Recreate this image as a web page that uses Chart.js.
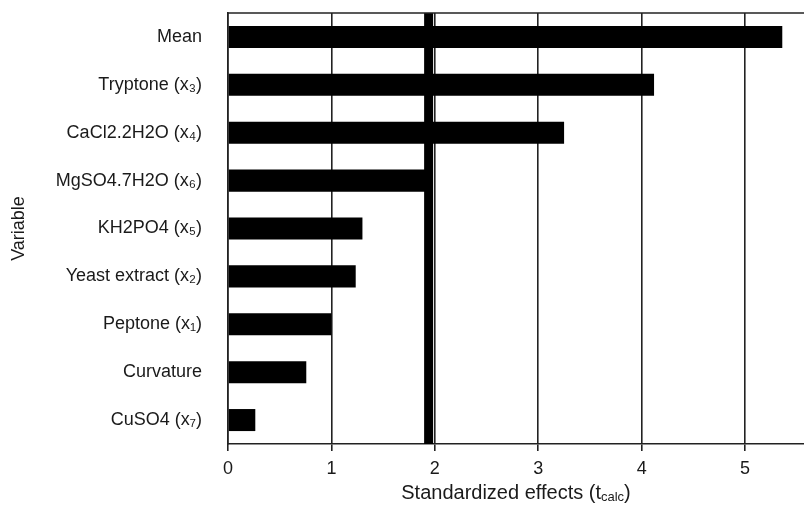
<!DOCTYPE html>
<html>
<head>
<meta charset="utf-8">
<script src="https://cdn.jsdelivr.net/npm/chart.js@4/dist/chart.umd.min.js"></script>
<style>
  body { margin: 0; background: #fff; }
  #wrap { width: 804px; height: 506px; }
</style>
</head>
<body>
<div id="wrap"><canvas id="canvas1" width="804" height="506"></canvas></div>
<script>
// values
const categories = ["Mean", "Tryptone (x₃)", "CaCl2.2H2O (x₄)", "MgSO4.7H2O (x₆)", "KH2PO4 (x₅)",
  "Yeast extract (x₂)", "Peptone (x₁)", "Curvature", "CuSO4 (x₇)"];
const effects = [5.36, 4.12, 3.25, 1.97, 1.30, 1.235, 1.00, 0.757, 0.264];
const xTicks = [0, 1, 2, 3, 4, 5];
const criticalT = 1.94; // significance line (p = 0.05)

const FONT = "'Liberation Sans', Arial, sans-serif";
const INK = "#1a1a1a";

// thick vertical line for t critical + top frame line
const refLines = {
  id: "refLines",
  beforeDatasetsDraw(chart) {
    const { ctx, chartArea } = chart;
    const x = chart.scales.x.getPixelForValue(criticalT);
    ctx.save();
    ctx.strokeStyle = "#000";
    ctx.lineWidth = 9;
    ctx.beginPath();
    ctx.moveTo(x, chartArea.top);
    ctx.lineTo(x, chartArea.bottom);
    ctx.stroke();
    ctx.restore();
  },
  afterDraw(chart) {
    const { ctx, chartArea } = chart;
    ctx.save();
    ctx.strokeStyle = "#222";
    ctx.lineWidth = 1.6;
    ctx.beginPath();
    ctx.moveTo(chartArea.left, chartArea.top);
    ctx.lineTo(chartArea.right, chartArea.top);
    ctx.stroke();

    // x title with subscript
    const parts = [
      { t: "Standardized effects (t", size: 20, dy: 0 },
      { t: "calc", size: 13, dy: 2 },
      { t: ")", size: 20, dy: 0 },
    ];
    let total = 0;
    parts.forEach(p => { ctx.font = p.size + "px " + FONT; p.w = ctx.measureText(p.t).width; total += p.w; });
    let x = (chartArea.left + chartArea.right) / 2 - total / 2;
    const y = 499;
    ctx.fillStyle = INK;
    ctx.textBaseline = "alphabetic";
    ctx.textAlign = "left";
    parts.forEach(p => {
      ctx.font = p.size + "px " + FONT;
      ctx.fillText(p.t, x, y + p.dy);
      x += p.w;
    });
    ctx.restore();
  }
};

window.onload = function () {
  let ctx1 = document.getElementById("canvas1").getContext("2d");
  new Chart(ctx1, {
    type: "bar",
    data: {
      labels: categories,
      datasets: [
        {
          label: "Standardized effects",
          backgroundColor: "#000",
          borderWidth: 0,
          data: effects,
          categoryPercentage: 1,
          barPercentage: 0.46,
        },
      ],
    },
    options: {
      indexAxis: "y",
      responsive: false,
      animation: false,
      layout: { padding: { top: 13, right: 0, left: 0, bottom: 0 } },
      plugins: {
        legend: { display: false },
        tooltip: { enabled: false },
      },
      scales: {
        x: {
          min: 0,
          max: 5.57,
          afterBuildTicks: (scale) => { scale.ticks = xTicks.map(v => ({ value: v })); },
          afterFit: (scale) => { scale.height = 62; },
          grid: { color: "#222", lineWidth: 1.6, tickLength: 7 },
          border: { color: "#222", width: 1.6 },
          ticks: { color: INK, font: { family: FONT, size: 18 }, padding: 7 },
        },
        y: {
          afterFit: (scale) => { scale.width = 228; },
          // grid hidden; tickLength only used as the gap between labels and axis
          grid: { display: false, drawTicks: true, tickLength: 26 },
          border: { color: "#222", width: 1.6 },
          ticks: { color: INK, font: { family: FONT, size: 18 }, padding: 0 },
          title: {
            display: true,
            text: "Variable",
            color: INK,
            font: { family: FONT, size: 18 },
            padding: { top: 8, bottom: 0 },
          },
        },
      },
    },
    plugins: [refLines],
  });
};
</script>
</body>
</html>
